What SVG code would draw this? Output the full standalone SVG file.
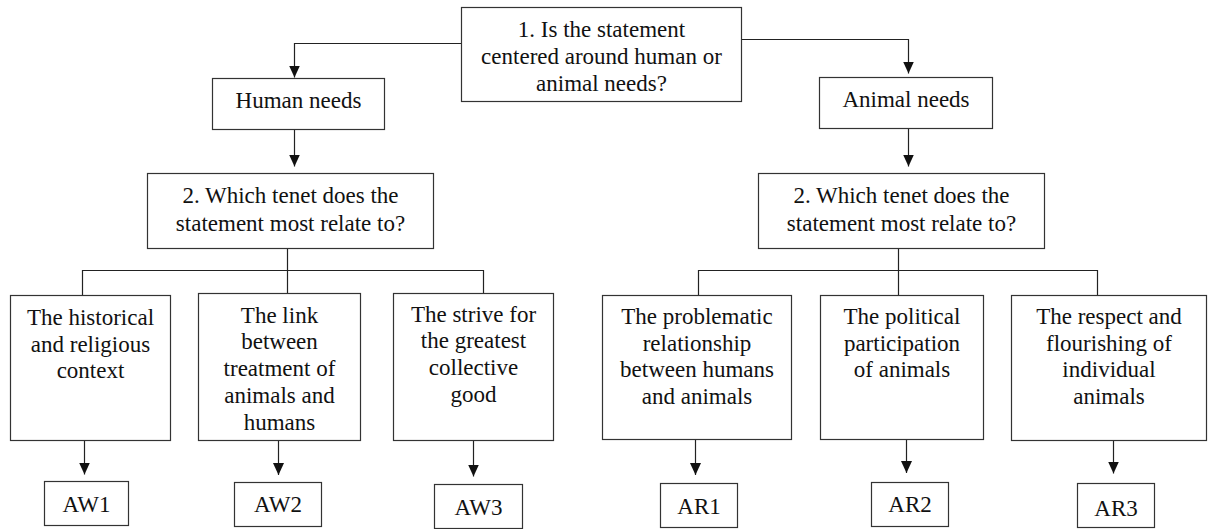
<svg xmlns="http://www.w3.org/2000/svg" width="1209" height="529" viewBox="0 0 1209 529">
<style>
.box{fill:#fff;stroke:#333;stroke-width:1.2}
.t{font-family:"Liberation Serif","Times New Roman",serif;font-size:23px;fill:#111;text-anchor:middle}
.ln{fill:none;stroke:#222;stroke-width:1.2}
</style>
<defs>
<marker id="ah" viewBox="0 0 12 11" refX="12" refY="5.5" markerWidth="12" markerHeight="11" markerUnits="userSpaceOnUse" orient="auto">
<path d="M0,0 L12,5.5 L0,11 z" fill="#111"/>
</marker>
</defs>
<rect width="1209" height="529" fill="#fff"/>
<g id="connectors">
<path class="ln" d="M461.5,43.5 H294.5 V77.5" marker-end="url(#ah)"/>
<path class="ln" d="M741.5,39.5 H908.5 V73.5" marker-end="url(#ah)"/>
<path class="ln" d="M294.5,130 V166.5" marker-end="url(#ah)"/>
<path class="ln" d="M908.5,129 V166.5" marker-end="url(#ah)"/>
<path class="ln" d="M82.5,295.5 V270.5 H483.5 V293.5 M287.5,248.5 V293.5"/>
<path class="ln" d="M698.5,295.5 V270.5 H1097.5 V295.5 M898.5,248.5 V295.5"/>
<path class="ln" d="M84.5,441 V474.5" marker-end="url(#ah)"/>
<path class="ln" d="M278.5,441 V475" marker-end="url(#ah)"/>
<path class="ln" d="M473.5,441 V476.5" marker-end="url(#ah)"/>
<path class="ln" d="M695.5,440 V475" marker-end="url(#ah)"/>
<path class="ln" d="M906.5,440 V473" marker-end="url(#ah)"/>
<path class="ln" d="M1113.5,441 V473.5" marker-end="url(#ah)"/>
</g>
<g id="q1">
<rect class="box" x="461.5" y="7.5" width="280" height="94"/>
<text class="t" x="601.5" y="37">1. Is the statement</text>
<text class="t" x="601.5" y="64">centered around human or</text>
<text class="t" x="601.5" y="91">animal needs?</text>
</g>
<g id="human">
<rect class="box" x="212.5" y="78.5" width="172" height="51"/>
<text class="t" x="298.5" y="108">Human needs</text>
</g>
<g id="animal">
<rect class="box" x="819.5" y="77.5" width="173" height="51"/>
<text class="t" x="906" y="107">Animal needs</text>
</g>
<g id="q2-human">
<rect class="box" x="147.5" y="173.5" width="286" height="75"/>
<text class="t" x="290.5" y="203">2. Which tenet does the</text>
<text class="t" x="290.5" y="231">statement most relate to?</text>
</g>
<g id="q2-animal">
<rect class="box" x="758.5" y="173.5" width="286" height="75"/>
<text class="t" x="901.5" y="203">2. Which tenet does the</text>
<text class="t" x="901.5" y="231">statement most relate to?</text>
</g>
<g id="hw1">
<rect class="box" x="10.5" y="295.5" width="160" height="145"/>
<text class="t" x="90.5" y="325">The historical</text>
<text class="t" x="90.5" y="352">and religious</text>
<text class="t" x="90.5" y="378">context</text>
</g>
<g id="hw2">
<rect class="box" x="198.5" y="293.5" width="162" height="147"/>
<text class="t" x="279.5" y="322.5">The link</text>
<text class="t" x="279.5" y="349">between</text>
<text class="t" x="279.5" y="376">treatment of</text>
<text class="t" x="279.5" y="403">animals and</text>
<text class="t" x="279.5" y="430">humans</text>
</g>
<g id="hw3">
<rect class="box" x="393.5" y="293.5" width="160" height="147"/>
<text class="t" x="473.5" y="321.5">The strive for</text>
<text class="t" x="473.5" y="348">the greatest</text>
<text class="t" x="473.5" y="375">collective</text>
<text class="t" x="473.5" y="402">good</text>
</g>
<g id="ar1">
<rect class="box" x="602.5" y="295.5" width="189" height="144"/>
<text class="t" x="697" y="324">The problematic</text>
<text class="t" x="697" y="350.5">relationship</text>
<text class="t" x="697" y="377">between humans</text>
<text class="t" x="697" y="403.5">and animals</text>
</g>
<g id="ar2">
<rect class="box" x="820.5" y="295.5" width="163" height="144"/>
<text class="t" x="902" y="324">The political</text>
<text class="t" x="902" y="350.5">participation</text>
<text class="t" x="902" y="377">of animals</text>
</g>
<g id="ar3">
<rect class="box" x="1011.5" y="295.5" width="195" height="145"/>
<text class="t" x="1109" y="324">The respect and</text>
<text class="t" x="1109" y="350.5">flourishing of</text>
<text class="t" x="1109" y="377">individual</text>
<text class="t" x="1109" y="403.5">animals</text>
</g>
<g id="AW1">
<rect class="box" x="44.5" y="481.5" width="84" height="44"/>
<text class="t" x="86.5" y="512">AW1</text>
</g>
<g id="AW2">
<rect class="box" x="234.5" y="482.5" width="87" height="44"/>
<text class="t" x="278" y="512">AW2</text>
</g>
<g id="AW3">
<rect class="box" x="434.5" y="484.5" width="88" height="44"/>
<text class="t" x="478.5" y="515">AW3</text>
</g>
<g id="AR1">
<rect class="box" x="660.5" y="483.5" width="77" height="44"/>
<text class="t" x="699" y="514">AR1</text>
</g>
<g id="AR2">
<rect class="box" x="871.5" y="482.5" width="77" height="44"/>
<text class="t" x="910" y="512">AR2</text>
</g>
<g id="AR3">
<rect class="box" x="1077.5" y="483.5" width="77" height="44"/>
<text class="t" x="1116" y="516">AR3</text>
</g>
</svg>
